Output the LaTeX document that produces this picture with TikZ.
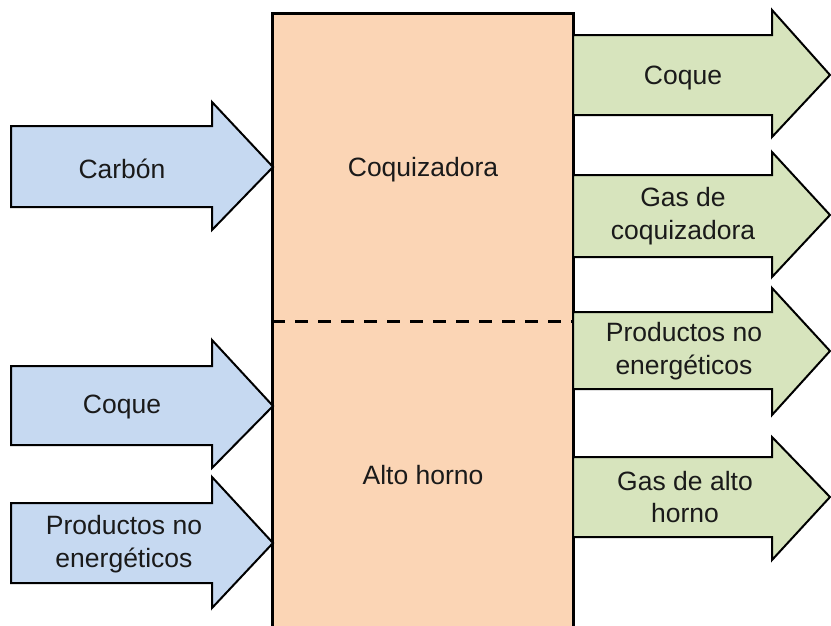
\documentclass[tikz,border=0pt]{standalone}
\usepackage{fontspec}
\setmainfont{Liberation Sans}
\definecolor{inblue}{HTML}{C6D9F1}
\definecolor{outgreen}{HTML}{D7E4BD}
\definecolor{plantorange}{HTML}{FBD5B5}
\definecolor{txt}{HTML}{1A1A1A}
\tikzset{
  inarrow/.style={draw=black, line width=2pt, fill=inblue, line join=miter},
  outarrow/.style={draw=black, line width=2pt, fill=outgreen, line join=miter},
  plantbox/.style={draw=black, line width=3pt, fill=plantorange},
  lbl/.style={text=txt, align=center, font=\fontsize{26.5}{32.5}\selectfont, inner sep=0pt}
}
\begin{document}
\begin{tikzpicture}[x=1pt, y=-1pt]
\useasboundingbox (0,0) rectangle (831,625);
% central box
\path[plantbox] (272,13) rectangle (573,660);
\coordinate (divL) at (272,321);
\coordinate (divR) at (573,321);
\draw[line width=3pt, dash pattern=on 13pt off 10pt] (divL) -- (divR);
% left input arrows
\path[inarrow] (11,126) -- (212,126) -- (212,102) -- (273,167) -- (212,230) -- (212,207) -- (11,207) -- cycle;
\path[inarrow] (11,366) -- (212,366) -- (212,340) -- (273,406) -- (212,468) -- (212,445) -- (11,445) -- cycle;
\path[inarrow] (11,503) -- (212,503) -- (212,477) -- (273,543) -- (212,608) -- (212,583) -- (11,583) -- cycle;
% right output arrows
\path[outarrow] (573,35) -- (772,35) -- (772,10) -- (830,75) -- (772,137) -- (772,115) -- (573,115) -- cycle;
\path[outarrow] (573,175) -- (772,175) -- (772,152) -- (830,215) -- (772,277) -- (772,257) -- (573,257) -- cycle;
\path[outarrow] (573,312) -- (772,312) -- (772,288) -- (830,351) -- (772,415) -- (772,389) -- (573,389) -- cycle;
\path[outarrow] (573,457) -- (772,457) -- (772,437) -- (830,497) -- (772,560) -- (772,537) -- (573,537) -- cycle;
% labels
\node[lbl] (carbon) at (122,169) {Carbón};
\node[lbl] (coqueL) at (122,407) {Coque};
\node[lbl] (prodL) at (124,544) {Productos no\\energéticos};
\node[lbl] (coquiz) at (423,170) {Coquizadora};
\node[lbl] (alto) at (423,475) {Alto horno};
\node[lbl] (coqueR) at (683,78) {Coque};
\node[lbl] (gascoq) at (683,216) {Gas de\\coquizadora};
\node[lbl] (prodR) at (684,351) {Productos no\\energéticos};
\node[lbl] (gasah) at (685,497) {Gas de alto\\horno};
\end{tikzpicture}
\end{document}
